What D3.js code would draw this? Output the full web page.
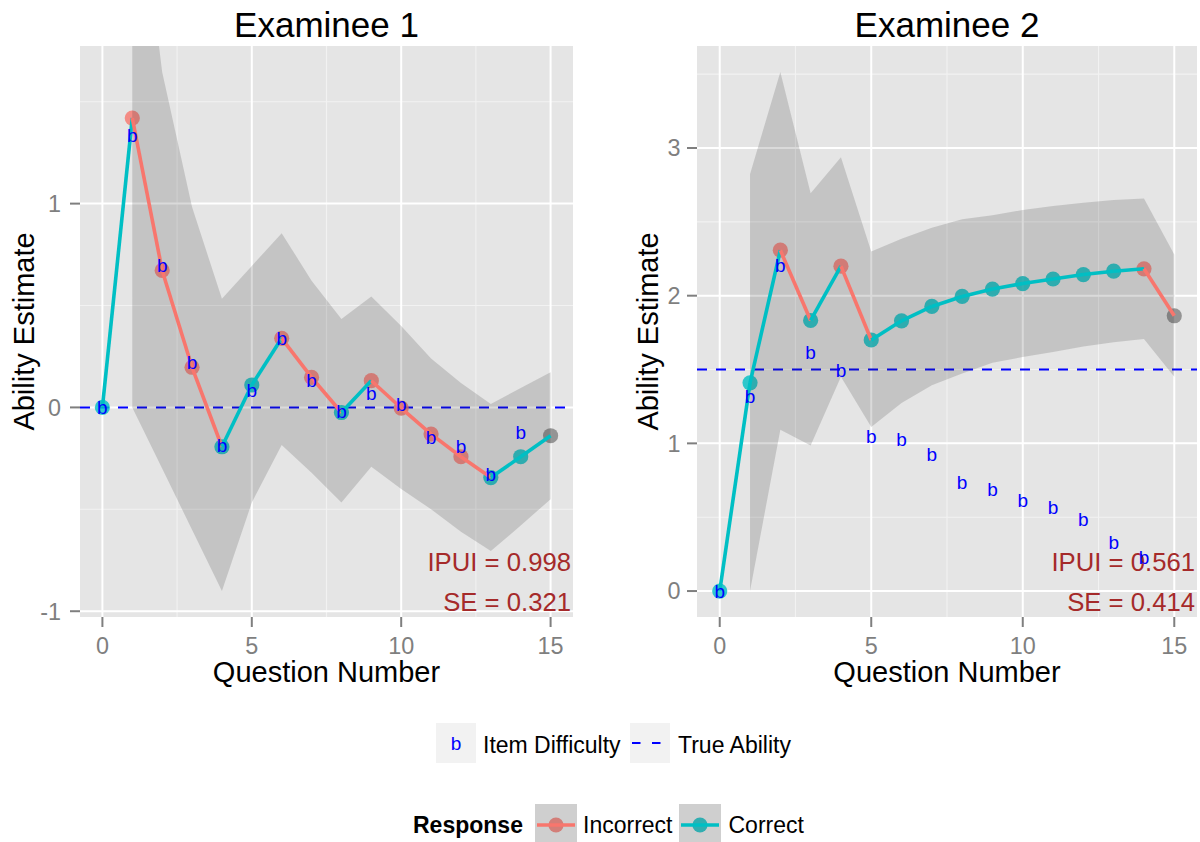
<!DOCTYPE html>
<html>
<head>
<meta charset="utf-8">
<script src="https://cdn.jsdelivr.net/npm/d3@7"></script>
<style>
  body { margin: 0; background: #fff; }
  text { font-family: "Liberation Sans", Arial, Helvetica, sans-serif; }
</style>
</head>
<body>
<svg id="chart" width="1200" height="842"></svg>
<script>
// ---- Data ------------------------------------------------------------
const questionNumbers = d3.range(0, 16);          // 0..15 ability updates
const itemPositions = d3.range(0, 15);            // item administered after update i
const ribbonPositions = d3.range(1, 16);          // SE band exists from question 1 on

// Examinee 1
const estimate1 = [0, 1.42, 0.672, 0.197, -0.193, 0.11, 0.339, 0.147, -0.025, 0.131,
                   -0.003, -0.131, -0.242, -0.344, -0.242, -0.139];
const response1 = ["Correct", "Incorrect", "Incorrect", "Incorrect", "Correct", "Correct",
                   "Incorrect", "Incorrect", "Correct", "Incorrect", "Incorrect", "Incorrect",
                   "Incorrect", "Correct", "Correct", null];
const difficulty1 = [0, 1.335, 0.696, 0.221, -0.185, 0.085, 0.339, 0.134, -0.02, 0.071,
                     0.017, -0.147, -0.188, -0.327, -0.123];
const upper1 = [2.84, 1.646, 0.983, 0.533, 0.694, 0.855, 0.622, 0.434, 0.544, 0.40,
                0.24, 0.12, 0.017, 0.095, 0.172];
const lower1 = [0, -0.3, -0.6, -0.901, -0.467, -0.185, -0.32, -0.467, -0.291, -0.40,
                -0.50, -0.61, -0.704, -0.58, -0.45];
const trueAbility1 = 0;
const yLimits1 = [-0.901, 1.646];
const yTicks1 = [-1, 0, 1];
const ipui1 = "0.998";
const se1 = "0.321";

// Examinee 2
const estimate2 = [0, 1.41, 2.308, 1.832, 2.2, 1.70, 1.83, 1.927, 1.995, 2.045,
                   2.082, 2.113, 2.143, 2.166, 2.182, 1.864];
const response2 = ["Correct", "Correct", "Incorrect", "Correct", "Incorrect", "Correct",
                   "Correct", "Correct", "Correct", "Correct", "Correct", "Correct",
                   "Correct", "Correct", "Incorrect", null];
const difficulty2 = [0, 1.32, 2.21, 1.617, 1.497, 1.048, 1.032, 0.925, 0.737, 0.692,
                     0.617, 0.567, 0.488, 0.333, 0.227];
const upper2 = [2.823, 3.515, 2.694, 2.937, 2.30, 2.386, 2.46, 2.517, 2.544, 2.58,
                2.607, 2.63, 2.648, 2.658, 2.279];
const lower2 = [0, 1.093, 0.986, 1.451, 1.111, 1.274, 1.394, 1.473, 1.546, 1.584,
                1.619, 1.656, 1.684, 1.706, 1.451];
const trueAbility2 = 1.5;
const yLimits2 = [0, 3.515];
const yTicks2 = [0, 1, 2, 3];
const ipui2 = "0.561";
const se2 = "0.414";

const xTicks = [0, 5, 10, 15];
const responseLevels = ["Incorrect", "Correct"];
const responseColors = ["#F8766D", "#00BFC4"];

// ---- Styling ---------------------------------------------------------
const colour = d3.scaleOrdinal().domain(responseLevels).range(responseColors).unknown("#7F7F7F");
const panelBg = "#E5E5E5";
const axisGrey = "#7F7F7F";
const tickFont = 23.4;
const axisTitleFont = 29;
const titleFont = 35;

const svg = d3.select("#chart");

function expand(lim, mult) {
  const d = lim[1] - lim[0];
  return [lim[0] - d * mult, lim[1] + d * mult];
}
function minorBreaks(ticks, domain) {
  const step = ticks[1] - ticks[0];
  const out = [];
  for (const t of ticks) out.push(t - step / 2);
  out.push(ticks[ticks.length - 1] + step / 2);
  return out.filter(v => v > domain[0] && v < domain[1]);
}

function drawPanel(cfg) {
  const { id, box, title, est, resp, diff, up, lo, truth, yLim, yTicks, ipui, se, yTitleX, yLabelRight } = cfg;
  const x = d3.scaleLinear().domain(expand(d3.extent(questionNumbers), 0.05)).range([box.left, box.right]);
  const y = d3.scaleLinear().domain(expand(yLim, 0.05)).range([box.bottom, box.top]);

  const g = svg.append("g");
  g.append("clipPath").attr("id", "clip" + id)
    .append("rect").attr("x", box.left).attr("y", box.top)
    .attr("width", box.right - box.left).attr("height", box.bottom - box.top);

  const p = g.append("g").attr("clip-path", `url(#clip${id})`);
  p.append("rect").attr("x", box.left).attr("y", box.top)
    .attr("width", box.right - box.left).attr("height", box.bottom - box.top).attr("fill", panelBg);

  // grid
  const xMinor = minorBreaks(xTicks, x.domain());
  const yMinor = minorBreaks(yTicks, y.domain());
  p.selectAll(".xminor").data(xMinor).join("line")
    .attr("x1", d => x(d)).attr("x2", d => x(d)).attr("y1", box.top).attr("y2", box.bottom)
    .attr("stroke", "#F2F2F2").attr("stroke-width", 1.1);
  p.selectAll(".yminor").data(yMinor).join("line")
    .attr("y1", d => y(d)).attr("y2", d => y(d)).attr("x1", box.left).attr("x2", box.right)
    .attr("stroke", "#F2F2F2").attr("stroke-width", 1.1);
  p.selectAll(".xmajor").data(xTicks).join("line")
    .attr("x1", d => x(d)).attr("x2", d => x(d)).attr("y1", box.top).attr("y2", box.bottom)
    .attr("stroke", "#fff").attr("stroke-width", 2);
  p.selectAll(".ymajor").data(yTicks).join("line")
    .attr("y1", d => y(d)).attr("y2", d => y(d)).attr("x1", box.left).attr("x2", box.right)
    .attr("stroke", "#fff").attr("stroke-width", 2);

  // true ability reference line
  p.append("line").attr("x1", box.left).attr("x2", box.right)
    .attr("y1", y(truth)).attr("y2", y(truth))
    .attr("stroke", "#0000FF").attr("stroke-width", 2).attr("stroke-dasharray", "10,9");

  // estimate points
  p.selectAll(".pt").data(questionNumbers).join("circle")
    .attr("cx", d => x(d)).attr("cy", (d, i) => y(est[i])).attr("r", 7.6)
    .attr("fill", (d, i) => colour(resp[i])).attr("fill-opacity", 0.8);

  // standard error band
  const area = d3.area().x(d => x(d)).y0((d, i) => y(lo[i])).y1((d, i) => y(up[i]));
  p.append("path").datum(ribbonPositions).attr("d", area)
    .attr("fill", "#333333").attr("fill-opacity", 0.18);

  // estimate path, each step coloured by the response given
  const segs = questionNumbers.slice(0, -1);
  p.selectAll(".seg").data(segs).join("line")
    .attr("x1", d => x(d)).attr("y1", (d, i) => y(est[i]))
    .attr("x2", d => x(d + 1)).attr("y2", (d, i) => y(est[i + 1]))
    .attr("stroke", (d, i) => colour(resp[i])).attr("stroke-width", 3.6);

  // IPUI / SE annotations
  p.append("text").attr("x", box.right - 2).attr("y", 570.5).attr("text-anchor", "end")
    .attr("font-size", 25.7).attr("fill", "#A52A2A").text(`IPUI = ${ipui}`);
  p.append("text").attr("x", box.right - 2).attr("y", 610.5).attr("text-anchor", "end")
    .attr("font-size", 25.7).attr("fill", "#A52A2A").text(`SE = ${se}`);

  // item difficulty markers
  p.selectAll(".b").data(itemPositions).join("text")
    .attr("x", d => x(d)).attr("y", (d, i) => y(diff[i]) + 6.9)
    .attr("text-anchor", "middle").attr("font-size", 19).attr("fill", "#0000FF").text("b");

  // axes
  g.selectAll(".xt").data(xTicks).join("line")
    .attr("x1", d => x(d)).attr("x2", d => x(d)).attr("y1", box.bottom).attr("y2", box.bottom + 10)
    .attr("stroke", axisGrey).attr("stroke-width", 2);
  g.selectAll(".xl").data(xTicks).join("text")
    .attr("x", d => x(d)).attr("y", 653.5).attr("text-anchor", "middle")
    .attr("font-size", tickFont).attr("fill", axisGrey).text(d => d);
  g.selectAll(".yt").data(yTicks).join("line")
    .attr("y1", d => y(d)).attr("y2", d => y(d)).attr("x1", box.left - 10).attr("x2", box.left)
    .attr("stroke", axisGrey).attr("stroke-width", 2);
  g.selectAll(".yl").data(yTicks).join("text")
    .attr("x", yLabelRight).attr("y", d => y(d) + 8.4).attr("text-anchor", "end")
    .attr("font-size", tickFont).attr("fill", axisGrey).text(d => d < 0 ? "-" + Math.abs(d) : d);

  const cx = (box.left + box.right) / 2;
  const cy = (box.top + box.bottom) / 2;
  g.append("text").attr("x", cx).attr("y", 681.5).attr("text-anchor", "middle")
    .attr("font-size", axisTitleFont).attr("fill", "#000").text("Question Number");
  g.append("text").attr("transform", `translate(${yTitleX},${cy}) rotate(-90)`)
    .attr("text-anchor", "middle").attr("font-size", axisTitleFont).attr("fill", "#000")
    .text("Ability Estimate");
  g.append("text").attr("x", cx).attr("y", 37).attr("text-anchor", "middle")
    .attr("font-size", titleFont).attr("fill", "#000").text(title);
}

drawPanel({ id: 1, box: { left: 80, right: 573, top: 46, bottom: 617 }, title: "Examinee 1",
  est: estimate1, resp: response1, diff: difficulty1, up: upper1, lo: lower1, truth: trueAbility1,
  yLim: yLimits1, yTicks: yTicks1, ipui: ipui1, se: se1, yTitleX: 33.5, yLabelRight: 61 });
drawPanel({ id: 2, box: { left: 697, right: 1197, top: 46, bottom: 617 }, title: "Examinee 2",
  est: estimate2, resp: response2, diff: difficulty2, up: upper2, lo: lower2, truth: trueAbility2,
  yLim: yLimits2, yTicks: yTicks2, ipui: ipui2, se: se2, yTitleX: 658, yLabelRight: 680.5 });

// ---- Legends ---------------------------------------------------------
const leg = svg.append("g");
const legendFont = 23;

// item difficulty / true ability
leg.append("rect").attr("x", 436).attr("y", 723).attr("width", 40).attr("height", 40).attr("fill", "#F2F2F2");
leg.append("text").attr("x", 456).attr("y", 750).attr("text-anchor", "middle")
  .attr("font-size", 19).attr("fill", "#0000FF").text("b");
leg.append("text").attr("x", 483).attr("y", 753).attr("font-size", legendFont).text("Item Difficulty");
leg.append("rect").attr("x", 630).attr("y", 723).attr("width", 40).attr("height", 40).attr("fill", "#F2F2F2");
leg.append("line").attr("x1", 632).attr("x2", 668).attr("y1", 743).attr("y2", 743)
  .attr("stroke", "#0000FF").attr("stroke-width", 2.2).attr("stroke-dasharray", "8.5,11.5");
leg.append("text").attr("x", 678).attr("y", 753).attr("font-size", legendFont).text("True Ability");

// response
leg.append("text").attr("x", 413).attr("y", 833).attr("font-size", legendFont)
  .attr("font-weight", "bold").text("Response");
const keyX = [535, 679];
const labelX = [583, 728.5];
responseLevels.forEach((lvl, i) => {
  const kx = keyX[i];
  leg.append("rect").attr("x", kx).attr("y", 804).attr("width", 42).attr("height", 42).attr("fill", "#F2F2F2");
  leg.append("circle").attr("cx", kx + 21).attr("cy", 825).attr("r", 7.6)
    .attr("fill", colour(lvl)).attr("fill-opacity", 0.8);
  leg.append("rect").attr("x", kx).attr("y", 804).attr("width", 42).attr("height", 42)
    .attr("fill", "#333333").attr("fill-opacity", 0.18);
  leg.append("line").attr("x1", kx + 2).attr("x2", kx + 40).attr("y1", 825).attr("y2", 825)
    .attr("stroke", colour(lvl)).attr("stroke-width", 3.6);
  leg.append("text").attr("x", labelX[i]).attr("y", 833).attr("font-size", legendFont).text(lvl);
});
</script>
</body>
</html>
